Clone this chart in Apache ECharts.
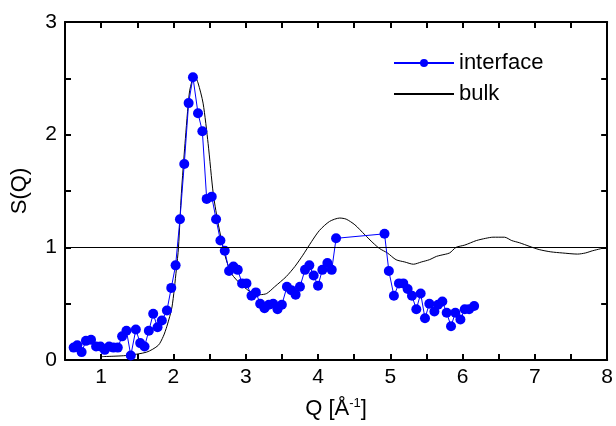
<!DOCTYPE html>
<html>
<head>
<meta charset="utf-8">
<script src="https://cdn.jsdelivr.net/npm/echarts@6/dist/echarts.min.js"></script>
<style>html,body{margin:0;padding:0;background:#fff}#c{width:616px;height:426px}</style>
</head>
<body>
<div id="c"></div>
<script>
const qInterface = [0.62,0.67,0.73,0.79,0.86,0.93,0.99,1.05,1.11,1.17,1.23,1.29,1.35,1.41,1.48,1.54,1.60,1.66,1.72,1.78,1.84,1.91,1.97,2.03,2.09,2.15,2.21,2.27,2.34,2.40,2.46,2.53,2.59,2.65,2.71,2.77,2.83,2.89,2.95,3.01,3.08,3.14,3.20,3.26,3.32,3.38,3.44,3.50,3.57,3.63,3.69,3.75,3.82,3.88,3.94,4.00,4.06,4.13,4.19,4.25,4.92,4.98,5.05,5.12,5.18,5.24,5.30,5.36,5.42,5.48,5.54,5.61,5.66,5.72,5.78,5.84,5.90,5.97,6.03,6.09,6.16];
const sInterface = [0.11,0.13,0.07,0.17,0.18,0.12,0.12,0.09,0.12,0.11,0.11,0.21,0.26,0.04,0.27,0.15,0.12,0.26,0.41,0.29,0.35,0.44,0.64,0.84,1.25,1.74,2.28,2.51,2.19,2.03,1.43,1.45,1.25,1.06,0.97,0.79,0.83,0.80,0.68,0.68,0.57,0.60,0.50,0.46,0.49,0.50,0.45,0.49,0.65,0.62,0.58,0.65,0.80,0.84,0.75,0.66,0.80,0.86,0.80,1.08,1.12,0.79,0.57,0.68,0.68,0.63,0.57,0.45,0.59,0.37,0.50,0.43,0.49,0.52,0.42,0.30,0.42,0.36,0.45,0.45,0.48];
const qBulk = [1.01,1.35,1.63,1.79,1.86,1.91,1.98,2.04,2.07,2.11,2.16,2.22,2.26,2.30,2.34,2.41,2.48,2.55,2.61,2.67,2.73,2.81,2.92,3.01,3.10,3.20,3.29,3.40,3.56,3.68,3.79,3.91,4.02,4.16,4.30,4.39,4.51,4.65,4.76,4.85,4.96,5.08,5.20,5.32,5.43,5.54,5.64,5.70,5.82,5.91,6.03,6.19,6.32,6.42,6.58,6.68,6.79,6.92,7.06,7.22,7.38,7.59,7.70,7.80,7.99];
const sBulk = [0.03,0.04,0.07,0.13,0.21,0.30,0.47,0.80,1.00,1.48,1.92,2.37,2.48,2.51,2.46,2.28,1.92,1.48,1.24,1.05,0.89,0.76,0.68,0.63,0.59,0.58,0.59,0.65,0.74,0.83,0.93,1.05,1.15,1.23,1.26,1.25,1.20,1.11,1.04,0.99,0.95,0.89,0.87,0.85,0.87,0.89,0.92,0.93,0.95,1.00,1.02,1.06,1.08,1.09,1.09,1.06,1.04,1.01,0.98,0.96,0.95,0.94,0.95,0.97,1.00];
const referenceLevel = 1;
const xRange = [0.5, 8];
const yRange = [0, 3];

const FONT = 'Liberation Sans, Arial, sans-serif';
const zip = (a, b) => a.map((v, i) => [v, b[i]]);
const intLabel = v => (Math.abs(v - Math.round(v)) < 1e-6 ? String(Math.round(v)) : '');

const axisCommon = {
  axisLine: { show: true, onZero: false, lineStyle: { color: '#000', width: 2 } },
  axisTick: { show: true, inside: true, length: 6, lineStyle: { color: '#000', width: 2 } },
  splitLine: { show: false }
};

const chart = echarts.init(document.getElementById('c'), null, { renderer: 'canvas' });
chart.setOption({
  animation: false,
  backgroundColor: '#fff',
  textStyle: { fontFamily: FONT },
  grid: { left: 65, right: 8, top: 22, bottom: 66, containLabel: false },
  legend: {
    orient: 'vertical',
    left: 388,
    top: 47,
    itemWidth: 60,
    itemHeight: 10,
    itemGap: 9,
    textStyle: { fontSize: 22, color: '#000', fontFamily: FONT, lineHeight: 22 },
    data: [
      { name: 'interface' },
      { name: 'bulk', itemStyle: { opacity: 0 } }
    ]
  },
  xAxis: [
    Object.assign({}, axisCommon, {
      type: 'value', min: xRange[0], max: xRange[1], interval: 0.5,
      axisLabel: { formatter: intLabel, fontSize: 21, color: '#000', margin: 7, fontFamily: FONT, showMinLabel: true },
      name: '{a|Q [Å}{s|-1}{a|]}',
      nameLocation: 'middle',
      nameGap: 37,
      nameTextStyle: {
        rich: {
          a: { fontSize: 22, color: '#000', fontFamily: FONT },
          s: { fontSize: 13, color: '#000', fontFamily: FONT, verticalAlign: 'top', padding: [0, 0, 10, 0] }
        }
      }
    }),
    Object.assign({}, axisCommon, {
      type: 'value', position: 'top', min: xRange[0], max: xRange[1], interval: 0.5,
      axisLabel: { show: false }
    })
  ],
  yAxis: [
    Object.assign({}, axisCommon, {
      type: 'value', min: yRange[0], max: yRange[1], interval: 0.5,
      axisLabel: { formatter: intLabel, fontSize: 21, color: '#000', margin: 8, fontFamily: FONT },
      name: 'S(Q)',
      nameLocation: 'middle',
      nameRotate: 90,
      nameGap: 34,
      nameTextStyle: { fontSize: 22, color: '#000', fontFamily: FONT }
    }),
    Object.assign({}, axisCommon, {
      type: 'value', position: 'right', min: yRange[0], max: yRange[1], interval: 0.5,
      axisLabel: { show: false }
    })
  ],
  series: [
    {
      name: 'interface',
      type: 'line',
      data: zip(qInterface, sInterface),
      symbol: 'circle',
      symbolSize: 10,
      showAllSymbol: true,
      itemStyle: { color: '#0000ff' },
      lineStyle: { color: '#0000ff', width: 1 },
      z: 3
    },
    {
      name: 'bulk',
      type: 'line',
      data: zip(qBulk, sBulk),
      symbol: 'none',
      smooth: 0.25,
      itemStyle: { color: '#000' },
      lineStyle: { color: '#000', width: 1 },
      markLine: {
        silent: true,
        symbol: ['none', 'none'],
        label: { show: false },
        lineStyle: { color: '#000', width: 1, type: 'solid' },
        data: [{ yAxis: referenceLevel }]
      },
      z: 2
    }
  ]
});
</script>
</body>
</html>
